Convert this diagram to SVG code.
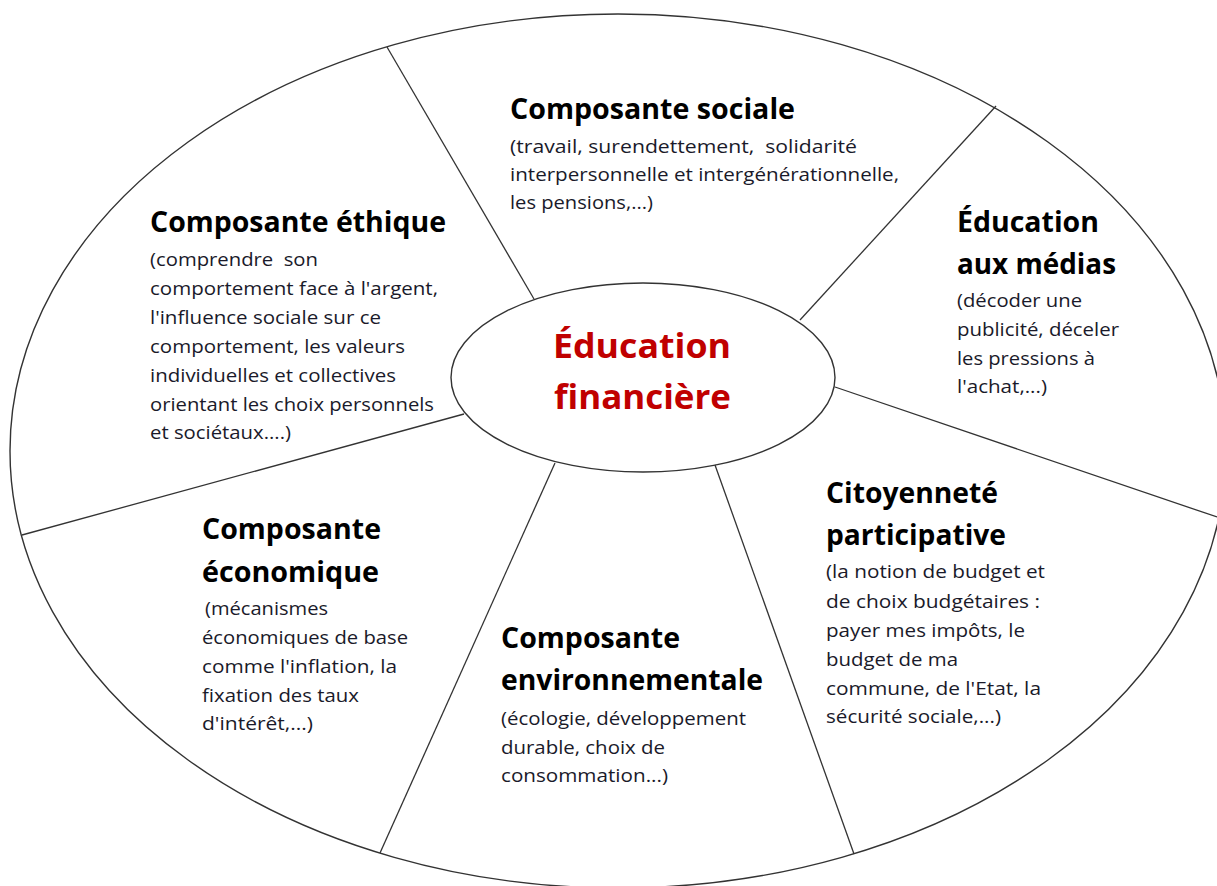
<svg xmlns="http://www.w3.org/2000/svg" width="1217" height="886" viewBox="0 0 1217 886">
<style>
.shape{fill:none;stroke:#333;stroke-width:1.4}
.conn line{stroke:#333;stroke-width:1.3}
.t{font-family:"Open Sans","Liberation Sans",sans-serif;font-weight:bold;font-size:29px;fill:#000}
.b{font-family:"Open Sans","Liberation Sans",sans-serif;font-size:18px;fill:#1a1a2a}
.c{font-family:"Open Sans","Liberation Sans",sans-serif;font-weight:bold;font-size:34px;fill:#c00000}
</style>
<rect width="1217" height="886" fill="#fff"/>
<ellipse id="outer" class="shape" cx="618" cy="451" rx="608" ry="437"/>
<g class="conn" id="connectors">
<line x1="387" y1="47" x2="534" y2="299"/>
<line x1="996" y1="106" x2="800" y2="320"/>
<line x1="835" y1="387" x2="1217" y2="517"/>
<line x1="715" y1="465" x2="854" y2="854"/>
<line x1="555" y1="463" x2="380" y2="853"/>
<line x1="464" y1="414" x2="22" y2="535"/>
</g>
<g id="center">
<ellipse class="shape" cx="643" cy="377.5" rx="192" ry="94.5" fill="#fff"/>
<text class="c" x="553" y="358" textLength="178" lengthAdjust="spacingAndGlyphs">Éducation</text>
<text class="c" x="554" y="409" textLength="177" lengthAdjust="spacingAndGlyphs">financière</text>
</g>
<g id="sociale">
<text class="t" x="510" y="119" textLength="285" lengthAdjust="spacingAndGlyphs">Composante sociale</text>
<text class="b" x="510" y="153" textLength="347" lengthAdjust="spacingAndGlyphs" xml:space="preserve">(travail, surendettement,  solidarité</text>
<text class="b" x="510" y="181" textLength="389" lengthAdjust="spacingAndGlyphs">interpersonnelle et intergénérationnelle,</text>
<text class="b" x="510" y="209" textLength="143" lengthAdjust="spacingAndGlyphs">les pensions,...)</text>
</g>
<g id="ethique">
<text class="t" x="150" y="232" textLength="296" lengthAdjust="spacingAndGlyphs">Composante éthique</text>
<text class="b" x="150" y="266" textLength="168" lengthAdjust="spacingAndGlyphs" xml:space="preserve">(comprendre  son</text>
<text class="b" x="150" y="295" textLength="288" lengthAdjust="spacingAndGlyphs">comportement face à l'argent,</text>
<text class="b" x="150" y="324" textLength="231" lengthAdjust="spacingAndGlyphs">l'influence sociale sur ce</text>
<text class="b" x="150" y="353" textLength="255" lengthAdjust="spacingAndGlyphs">comportement, les valeurs</text>
<text class="b" x="150" y="382" textLength="246" lengthAdjust="spacingAndGlyphs">individuelles et collectives</text>
<text class="b" x="150" y="411" textLength="284" lengthAdjust="spacingAndGlyphs">orientant les choix personnels</text>
<text class="b" x="150" y="439" textLength="141" lengthAdjust="spacingAndGlyphs">et sociétaux....)</text>
</g>
<g id="medias">
<text class="t" x="957" y="232" textLength="142" lengthAdjust="spacingAndGlyphs">Éducation</text>
<text class="t" x="957" y="274" textLength="159" lengthAdjust="spacingAndGlyphs">aux médias</text>
<text class="b" x="957" y="307" textLength="125" lengthAdjust="spacingAndGlyphs">(décoder une</text>
<text class="b" x="957" y="336" textLength="162" lengthAdjust="spacingAndGlyphs">publicité, déceler</text>
<text class="b" x="957" y="365" textLength="138" lengthAdjust="spacingAndGlyphs">les pressions à</text>
<text class="b" x="957" y="393" textLength="90" lengthAdjust="spacingAndGlyphs">l'achat,...)</text>
</g>
<g id="citoyennete">
<text class="t" x="826" y="503" textLength="172" lengthAdjust="spacingAndGlyphs">Citoyenneté</text>
<text class="t" x="826" y="545" textLength="180" lengthAdjust="spacingAndGlyphs">participative</text>
<text class="b" x="826" y="578" textLength="219" lengthAdjust="spacingAndGlyphs">(la notion de budget et</text>
<text class="b" x="826" y="608" textLength="214" lengthAdjust="spacingAndGlyphs">de choix budgétaires :</text>
<text class="b" x="826" y="637" textLength="199" lengthAdjust="spacingAndGlyphs">payer mes impôts, le</text>
<text class="b" x="826" y="666" textLength="132" lengthAdjust="spacingAndGlyphs">budget de ma</text>
<text class="b" x="826" y="695" textLength="215" lengthAdjust="spacingAndGlyphs">commune, de l'Etat, la</text>
<text class="b" x="826" y="723" textLength="175" lengthAdjust="spacingAndGlyphs">sécurité sociale,...)</text>
</g>
<g id="economique">
<text class="t" x="202" y="539" textLength="179" lengthAdjust="spacingAndGlyphs">Composante</text>
<text class="t" x="202" y="582" textLength="177" lengthAdjust="spacingAndGlyphs">économique</text>
<text class="b" x="205" y="615" textLength="123" lengthAdjust="spacingAndGlyphs">(mécanismes</text>
<text class="b" x="202" y="644" textLength="206" lengthAdjust="spacingAndGlyphs">économiques de base</text>
<text class="b" x="202" y="673" textLength="195" lengthAdjust="spacingAndGlyphs">comme l'inflation, la</text>
<text class="b" x="202" y="702" textLength="157" lengthAdjust="spacingAndGlyphs">fixation des taux</text>
<text class="b" x="202" y="730" textLength="111" lengthAdjust="spacingAndGlyphs">d'intérêt,...)</text>
</g>
<g id="environnementale">
<text class="t" x="501" y="648" textLength="179" lengthAdjust="spacingAndGlyphs">Composante</text>
<text class="t" x="501" y="690" textLength="262" lengthAdjust="spacingAndGlyphs">environnementale</text>
<text class="b" x="501" y="725" textLength="245" lengthAdjust="spacingAndGlyphs">(écologie, développement</text>
<text class="b" x="501" y="754" textLength="164" lengthAdjust="spacingAndGlyphs">durable, choix de</text>
<text class="b" x="501" y="782" textLength="167" lengthAdjust="spacingAndGlyphs">consommation...)</text>
</g>
</svg>
